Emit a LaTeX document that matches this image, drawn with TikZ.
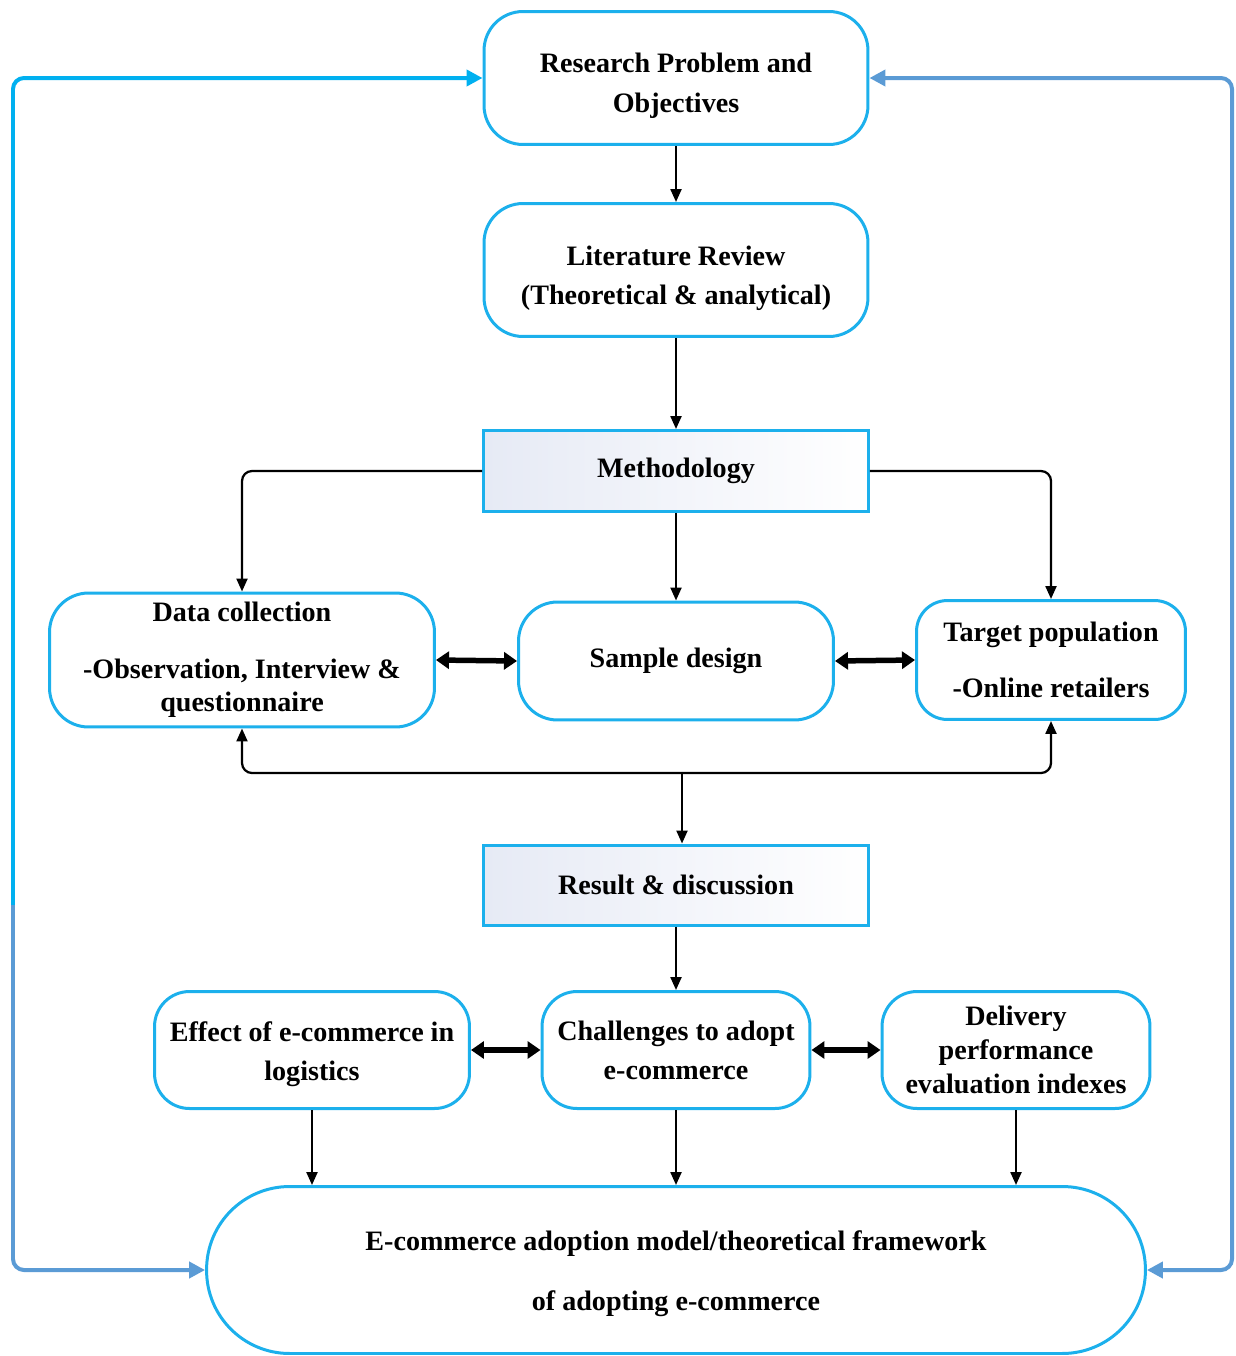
\documentclass[tikz,border=0pt]{standalone}
\usepackage{fontspec}
\setmainfont{Liberation Serif}
\usetikzlibrary{arrows.meta,calc}
\definecolor{boxblue}{HTML}{1CB0EC}
\definecolor{loopblue}{HTML}{00B0F0}
\definecolor{steelblue}{HTML}{5B9BD5}
\definecolor{panelshade}{HTML}{E6EAF5}

\tikzset{
  looptip/.tip={Triangle[length=0.32cm,width=0.32cm]},
  flowtip/.tip={Triangle[length=0.26cm,width=0.22cm]},
  pairtip/.tip={Triangle[length=0.26cm,width=0.34cm]}
}
% raises the top of a first line so the text block sits lower in its box
\newcommand{\lift}[1]{\rule{0pt}{#1}}

\begin{document}
\begin{tikzpicture}[x=0.02cm,y=-0.02cm,
  every node/.style={font=\fontsize{16}{19.2}\selectfont\bfseries, align=center, inner sep=0pt},
  roundbox/.style={draw=boxblue, line width=0.06cm, fill=white, rounded corners=#1},
  roundbox/.default=0.78cm,
  panel/.style={draw=boxblue, line width=0.06cm, left color=panelshade, right color=white},
  link/.style={draw=black, line width=0.045cm, -{flowtip}},
  twoway/.style={draw=black, line width=0.11cm, {pairtip}-{pairtip}},
  loopline/.style={line width=0.08cm, rounded corners=0.22cm}
]
\useasboundingbox (0,0) rectangle (1236,1356);

% main column
\node[roundbox, minimum width=7.68cm, minimum height=2.66cm] (rp) at (676,78)
  {\lift{20pt}Research Problem and\\[4pt]Objectives};
\node[roundbox, minimum width=7.68cm, minimum height=2.66cm] (lr) at (676,270)
  {\lift{20pt}Literature Review\\[3pt](Theoretical \& analytical)};
\node[panel, minimum width=7.7cm, minimum height=1.62cm] (meth) at (676,471) {Methodology};

% methodology branches
\node[roundbox, minimum width=7.7cm, minimum height=2.68cm] (dc) at (242,660)
  {Data collection\\[13pt]-Observation, Interview \&\\questionnaire};
\node[roundbox, minimum width=6.3cm, minimum height=2.36cm] (sd) at (676,661) {Sample design};
\node[roundbox=0.62cm, minimum width=5.38cm, minimum height=2.38cm] (tp) at (1051,660)
  {Target population\\[13pt]-Online retailers};

\node[panel, minimum width=7.7cm, minimum height=1.6cm] (res) at (676,885) {Result \& discussion};

% findings
\node[roundbox=0.7cm, minimum width=6.3cm, minimum height=2.34cm] (ef) at (312,1050)
  {\lift{15.5pt}Effect of e-commerce in\\[3pt]logistics};
\node[roundbox=0.7cm, minimum width=5.36cm, minimum height=2.34cm] (ch) at (676,1050)
  {Challenges to adopt\\[3pt]e-commerce};
\node[roundbox=0.7cm, minimum width=5.36cm, minimum height=2.34cm] (dp) at (1016,1050)
  {Delivery\\performance\\evaluation indexes};

% framework
\node[roundbox=1.66cm, minimum width=18.78cm, minimum height=3.34cm] (fw) at (676,1270)
  {\lift{15.5pt}E-commerce adoption model/theoretical framework\\[15pt]of adopting e-commerce};

% vertical flow
\draw[link] (rp.south) -- (lr.north);
\draw[link] (lr.south) -- (meth.north);
\draw[link] (meth.south) -- (sd.north);
\draw[link, rounded corners=0.2cm] (meth.west) -| (dc.north);
\draw[link, rounded corners=0.2cm] (meth.east) -| (tp.north);

\draw[twoway] (dc.east) -- (sd.west);
\draw[twoway] (sd.east) -- (tp.west);

\coordinate (hub) at (682,773);
\draw[link, rounded corners=0.2cm] (hub) -| (dc.south);
\draw[link, rounded corners=0.2cm] (hub) -| (tp.south);
\draw[link] (hub) -- (hub |- res.north);

\draw[link] (res.south) -- (ch.north);
\draw[twoway] (ef.east) -- (ch.west);
\draw[twoway] (ch.east) -- (dp.west);

\draw[link] (ef.south) -- (ef.south |- fw.north);
\draw[link] (ch.south) -- (fw.north);
\draw[link] (dp.south) -- (dp.south |- fw.north);

% feedback loops
\coordinate (lsplit) at (13,905);
\coordinate (rside) at (1232,600);
\draw[loopline, loopblue, -{looptip}] (lsplit) |- (rp.west);
\draw[loopline, steelblue, -{looptip}] (lsplit) |- (fw.west);
\draw[loopline, steelblue, {looptip}-{looptip}] (rp.east) -| (rside) |- (fw.east);
\end{tikzpicture}
\end{document}
